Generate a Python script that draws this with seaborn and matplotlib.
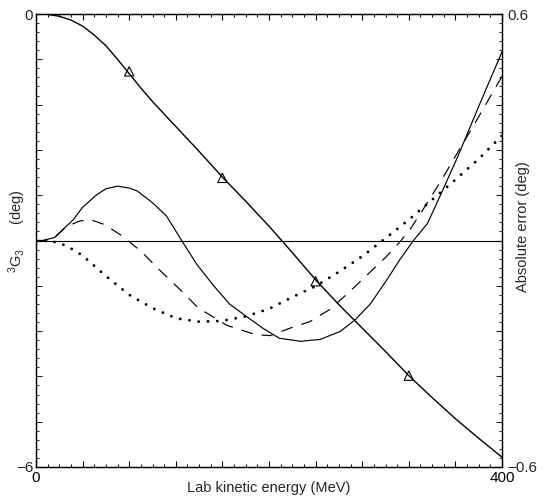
import numpy as np
import pandas as pd
import matplotlib
matplotlib.use("Agg")
import matplotlib.pyplot as plt
import seaborn as sns
from matplotlib.ticker import MultipleLocator, FuncFormatter

# ---- data ----
# phase shift 3G3 (deg), left axis
phase_x = [0, 10, 20, 30, 40, 50, 60, 70, 80, 90, 100, 120, 140, 160, 180, 200, 220,
           240, 260, 280, 300, 320, 340, 360, 380, 400]
phase_y = [0, -0.005, -0.03, -0.08, -0.16, -0.28, -0.42, -0.60, -0.79, -0.98,
           -1.16, -1.49, -1.82, -2.16, -2.48, -2.81, -3.16, -3.52, -3.85, -4.16,
           -4.47, -4.79, -5.08, -5.36, -5.62, -5.87]
# reference phase-shift values (triangles)
tri_x = [80, 160, 240, 320]
tri_y = [-0.76, -2.17, -3.54, -4.79]

# absolute errors (deg), right axis
err_solid_x = [0, 6, 16, 23, 32, 40, 52, 60, 70, 80, 87, 100, 112, 125, 138, 152,
               166, 181, 195, 209, 227, 244, 261, 274, 287, 301, 312, 324, 336,
               346, 362, 380, 400]
err_solid_y = [0, 0, 0.008, 0.029, 0.055, 0.088, 0.121, 0.137, 0.144, 0.139,
               0.131, 0.100, 0.065, 0.0, -0.063, -0.118, -0.168, -0.202, -0.233,
               -0.259, -0.267, -0.262, -0.241, -0.210, -0.168, -0.105, -0.052,
               0.0, 0.045, 0.112, 0.222, 0.355, 0.500]

err_dash_x = [0, 8, 16, 26, 38, 47, 59, 75, 91, 108, 124, 139, 164, 188, 201,
              220, 235, 252, 268, 284, 300, 312, 321, 332, 348, 380, 400]
err_dash_y = [0, 0, 0.008, 0.037, 0.052, 0.055, 0.042, 0.010, -0.031, -0.084,
              -0.131, -0.178, -0.225, -0.249, -0.252, -0.230, -0.215, -0.183,
              -0.139, -0.092, -0.045, -0.005, 0.029, 0.081, 0.160, 0.328, 0.435]

err_dot_x = [0, 10, 20, 30, 40, 50, 60, 80, 100, 120, 140, 160, 180, 200, 220,
             240, 260, 280, 300, 320, 340, 360, 380, 400]
err_dot_y = [0, -0.001, -0.006, -0.021, -0.040, -0.067, -0.094, -0.144, -0.179,
             -0.206, -0.215, -0.213, -0.201, -0.181, -0.150, -0.121, -0.083,
             -0.042, 0.006, 0.055, 0.108, 0.161, 0.216, 0.278]

x_ticklabels = {0: "0", 400: "400"}
left_ticklabels = {0: "0", -6: "\u22126"}
right_ticklabels = {0.6: "0.6", -0.6: "\u22120.6"}

# ---- style ----
sns.set_theme(style="ticks")
plt.rcParams["font.family"] = ["Liberation Sans", "DejaVu Sans"]
plt.rcParams["mathtext.fontset"] = "custom"
plt.rcParams["mathtext.rm"] = "Liberation Sans"
plt.rcParams["mathtext.it"] = "Liberation Sans:italic"
plt.rcParams["lines.scale_dashes"] = False

fig = plt.figure(figsize=(5.42, 5.0), dpi=100)
ax = fig.add_axes([36 / 542, 33 / 500, 466 / 542, 453 / 500])
ax2 = ax.twinx()

ax.set_xlim(0, 400)
ax.set_ylim(-6, 0)
ax2.set_ylim(-0.6, 0.6)

lw = 0.85
sns.lineplot(x=phase_x, y=phase_y, ax=ax, color="black", lw=1.0, estimator=None)
sns.scatterplot(x=tri_x, y=tri_y, ax=ax, marker="^", s=45, facecolor="none",
                edgecolor="black", linewidth=0.8, zorder=5)

ax2.axhline(0, color="black", lw=0.8)
sns.lineplot(x=err_solid_x, y=err_solid_y, ax=ax2, color="black", lw=lw, estimator=None)
sns.lineplot(x=err_dash_x, y=err_dash_y, ax=ax2, color="black", lw=lw,
             estimator=None, linestyle=(0, (8.5, 6.5)))
sns.lineplot(x=err_dot_x, y=err_dot_y, ax=ax2, color="black", lw=2.1,
             estimator=None, linestyle=(0, (0.01, 6.7)), dash_capstyle="round")

# ---- ticks ----
def fmt(d):
    def f(v, p):
        for k, s in d.items():
            if abs(v - k) < 1e-6:
                return s
        return ""
    return FuncFormatter(f)

ax.xaxis.set_major_locator(MultipleLocator(40))
ax.xaxis.set_minor_locator(MultipleLocator(10))
ax.xaxis.set_major_formatter(fmt(x_ticklabels))
ax.yaxis.set_major_locator(MultipleLocator(0.6))
ax.yaxis.set_minor_locator(MultipleLocator(0.12))
ax.yaxis.set_major_formatter(fmt(left_ticklabels))
ax2.yaxis.set_major_locator(MultipleLocator(0.12))
ax2.yaxis.set_minor_locator(MultipleLocator(0.024))
ax2.yaxis.set_major_formatter(fmt(right_ticklabels))

ax.tick_params(axis="x", which="both", direction="in", top=True, bottom=True,
               labelsize=11, pad=3, colors="black")
ax.tick_params(axis="y", which="both", direction="in", left=True, right=False,
               labelsize=11, pad=2)
ax2.tick_params(axis="y", which="both", direction="in", left=False, right=True,
                labelsize=11, pad=4)
for a in (ax, ax2):
    a.tick_params(which="major", length=4, width=0.8)
    a.tick_params(which="minor", length=2, width=0.7)
    for sp in a.spines.values():
        sp.set_visible(True)
        sp.set_linewidth(0.9)
        sp.set_color("black")

ax.set_xlabel("Lab kinetic energy (MeV)", fontsize=10.5, labelpad=-3)
ax.set_ylabel(r"$^{3}\mathrm{G}_{3}$      (deg)", fontsize=10.5)
ax.yaxis.set_label_coords(-0.018, 0.52)
ax2.set_ylabel("Absolute error (deg)", fontsize=10.5)
ax2.yaxis.set_label_coords(1.030, 0.53)

fig.savefig("out.png", dpi=100)
